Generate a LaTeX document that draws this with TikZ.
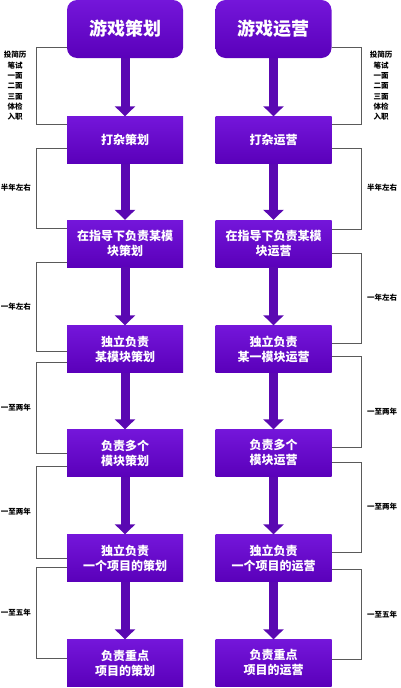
\documentclass[tikz,border=0pt]{standalone}
\usepackage{fontspec}
\setmainfont{Noto Sans CJK SC}
\usetikzlibrary{arrows.meta,calc}
\definecolor{boxtop}{HTML}{7416DA}
\definecolor{boxbot}{HTML}{5A00BA}
\definecolor{shaft}{HTML}{5A08B2}
\definecolor{bracket}{HTML}{5A5A5A}

\begin{document}
\begin{tikzpicture}[x=1pt, y=-1pt,
    head/.style={rounded corners=10pt, minimum width=116pt, minimum height=58pt, inner sep=0pt,
      top color=boxtop, bottom color=boxbot, text=white, font=\fontsize{18}{20}\selectfont\bfseries},
    stage/.style={minimum width=116pt, minimum height=47pt, inner sep=0pt, align=center,
      top color=boxtop, bottom color=boxbot, text=white, font=\fontsize{12}{15}\selectfont\bfseries},
    flow/.style={shaft, line width=9pt, -{Triangle[width=20pt,length=10pt]}},
    span/.style={bracket, line width=0.8pt},
    note/.style={align=center, font=\fontsize{7.5}{10.3}\selectfont\bfseries}]

    \useasboundingbox (0,0) rectangle (400,688);

    % left column
    \node[head] at (125,29) (Plan) {游戏策划};
    \node[stage] at (125,140) (Plan1) {打杂策划};
    \node[stage] at (125,243.5) (Plan2) {在指导下负责某模\\块策划};
    \node[stage] at (125,349) (Plan3) {独立负责\\某模块策划};
    \node[stage] at (125,453) (Plan4) {负责多个\\模块策划};
    \node[stage] at (125,558) (Plan5) {独立负责\\一个项目的策划};
    \node[stage] at (125,663) (Plan6) {负责重点\\项目的策划};

    % right column
    \node[head] at (273.5,29) (Ops) {游戏运营};
    \node[stage] at (273.5,140) (Ops1) {打杂运营};
    \node[stage] at (273.5,243.5) (Ops2) {在指导下负责某模\\块运营};
    \node[stage] at (273.5,349) (Ops3) {独立负责\\某一模块运营};
    \node[stage] at (273.5,453) (Ops4) {负责多个\\模块运营};
    \node[stage] at (273.5,558) (Ops5) {独立负责\\一个项目的运营};
    \node[stage] at (273.5,663) (Ops6) {负责重点\\项目的运营};

    \draw[flow] (Plan.south) -- (Plan1.north);
    \draw[flow] (Plan1.south) -- (Plan2.north);
    \draw[flow] (Plan2.south) -- (Plan3.north);
    \draw[flow] (Plan3.south) -- (Plan4.north);
    \draw[flow] (Plan4.south) -- (Plan5.north);
    \draw[flow] (Plan5.south) -- (Plan6.north);
    \draw[flow] (Ops.south) -- (Ops1.north);
    \draw[flow] (Ops1.south) -- (Ops2.north);
    \draw[flow] (Ops2.south) -- (Ops3.north);
    \draw[flow] (Ops3.south) -- (Ops4.north);
    \draw[flow] (Ops4.south) -- (Ops5.north);
    \draw[flow] (Ops5.south) -- (Ops6.north);

    % left brackets
    \draw[span] ($(Plan.south west)+(0,-11)$) -- ++(-30,0) |- ($(Plan1.north west)+(0,8)$);
    \draw[span] ($(Plan1.south west)+(0,-15)$) -- ++(-30,0) |- ($(Plan2.north west)+(0,9)$);
    \draw[span] ($(Plan2.south west)+(0,-5)$) -- ++(-30,0) |- ($(Plan3.north west)+(0,26)$);
    \draw[span] ($(Plan3.south west)+(0,-10)$) -- ++(-30,0) |- ($(Plan4.north west)+(0,24)$);
    \draw[span] ($(Plan4.south west)+(0,-10)$) -- ++(-30,0) |- ($(Plan5.north west)+(0,24)$);
    \draw[span] ($(Plan5.south west)+(0,-14)$) -- ++(-30,0) |- ($(Plan6.north west)+(0,19)$);

    % right brackets
    \draw[span] ($(Ops.south east)+(0,-11)$) -- ++(30,0) |- ($(Ops1.north east)+(0,8)$);
    \draw[span] ($(Ops1.south east)+(0,-15)$) -- ++(30,0) |- ($(Ops2.north east)+(0,10)$);
    \draw[span] ($(Ops2.south east)+(0,-14)$) -- ++(30,0) |- ($(Ops3.north east)+(0,18)$);
    \draw[span] ($(Ops3.south east)+(0,-16)$) -- ++(30,0) |- ($(Ops4.north east)+(0,18)$);
    \draw[span] ($(Ops4.south east)+(0,-14)$) -- ++(30,0) |- ($(Ops5.north east)+(0,18)$);
    \draw[span] ($(Ops5.south east)+(0,-12)$) -- ++(30,0) |- ($(Ops6.north east)+(0,20)$);

    \node[note] at (15,86) (PlanHire) {投简历\\笔试\\一面\\二面\\三面\\体检\\入职};
    \node[note] at (16,188) (PlanT1) {半年左右};
    \node[note] at (16,307) (PlanT2) {一年左右};
    \node[note] at (16,408) (PlanT3) {一至两年};
    \node[note] at (16,512) (PlanT4) {一至两年};
    \node[note] at (16,613) (PlanT5) {一至五年};

    \node[note] at (381,86) (OpsHire) {投简历\\笔试\\一面\\二面\\三面\\体检\\入职};
    \node[note] at (382,188) (OpsT1) {半年左右};
    \node[note] at (382,298) (OpsT2) {一年左右};
    \node[note] at (382,412) (OpsT3) {一至两年};
    \node[note] at (382,507) (OpsT4) {一至两年};
    \node[note] at (382,615) (OpsT5) {一至五年};

\end{tikzpicture}
\end{document}
